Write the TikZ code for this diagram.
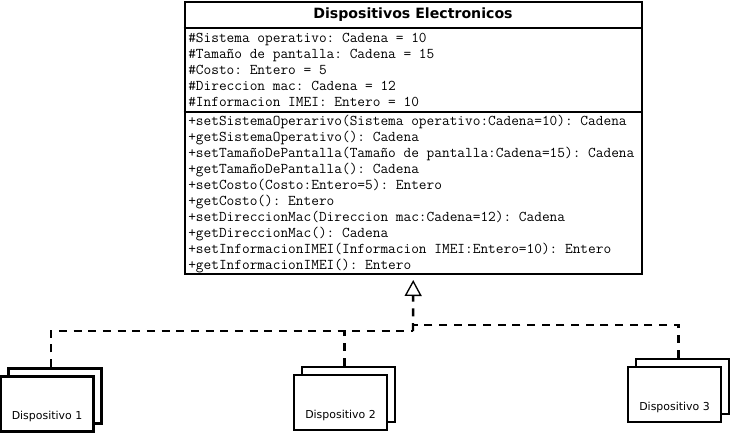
\documentclass[tikz,border=0pt]{standalone}
\usepackage{fontspec}
\setmainfont{DejaVu Sans}
\usepackage{tikz}
\usetikzlibrary{arrows.meta,shadows,calc}
\tikzset{classbox/.style={draw, line width=1.5pt, minimum width=343pt, minimum height=204pt, inner sep=0pt},
classname/.style={font=\bfseries\fontsize{10.6}{12}\selectfont, inner sep=0pt},
member/.style={anchor=west, inner sep=0pt, text height=7pt, text depth=2pt, font=\ttfamily\frenchspacing\fontsize{11.2}{12}\selectfont},
device/.style={draw, fill=white, line width=2.2pt, minimum width=69.75pt, inner sep=0pt, text height=32.25pt, text depth=9pt, font=\fontsize{8.2}{10}\selectfont, copy shadow={shadow xshift=6pt, shadow yshift=6pt, draw, fill=white, line width=2.2pt}},
dep/.style={line width=1.8pt, dash pattern=on 6pt off 5pt},
realize/.style={dep, shorten >=3.75pt, -{Triangle[open, length=12pt, width=12.75pt, line width=1pt]}}}

\begin{document}
\begin{tikzpicture}[x=0.75pt,y=-0.75pt]
\useasboundingbox (0,0) rectangle (731,433);
% clase
\node[classbox] (cls) at (413.25,138) {};
\node[classname] (title) at (413,15) {Dispositivos Electronicos};
\draw[line width=1.5pt] (cls.west |- 0,28) -- (cls.east |- 0,28);
\draw[line width=1.5pt] (cls.west |- 0,112) -- (cls.east |- 0,112);
\foreach \t [count=\i] in {{\#Sistema operativo: Cadena = 10},
{\#Tamaño de pantalla: Cadena = 15},
{\#Costo: Entero = 5},
{\#Direccion mac: Cadena = 12},
{\#Informacion IMEI: Entero = 10}}
\node[member] (a\i) at (188,23+16*\i) {\t};
\foreach \t [count=\i] in {{+setSistemaOperarivo(Sistema operativo:Cadena=10): Cadena},
{+getSistemaOperativo(): Cadena},
{+setTamañoDePantalla(Tamaño de pantalla:Cadena=15): Cadena},
{+getTamañoDePantalla(): Cadena},
{+setCosto(Costo:Entero=5): Entero},
{+getCosto(): Entero},
{+setDireccionMac(Direccion mac:Cadena=12): Cadena},
{+getDireccionMac(): Cadena},
{+setInformacionIMEI(Informacion IMEI:Entero=10): Entero},
{+getInformacionIMEI(): Entero}}
\node[member] (m\i) at (188,106+16*\i) {\t};
% dispositivos
\node[device] (d1) at (47,404) {Dispositivo 1};
\node[device] (d2) at (340.5,402.5) {Dispositivo 2};
\node[device] (d3) at (674.5,394.5) {Dispositivo 3};
% herencia
\coordinate (jl) at (413,331);
\coordinate (jr) at (413,325);
\draw[realize] (jl) -- (cls.south);
\draw[dep] ([xshift=3pt,yshift=6pt]d1.north) |- (jl);
\draw[dep] ([xshift=3pt,yshift=6pt]d2.north) -- ([xshift=3pt]d2.north |- jl);
\draw[dep] ([xshift=3pt,yshift=6pt]d3.north) |- (jr);
\end{tikzpicture}
\end{document}
